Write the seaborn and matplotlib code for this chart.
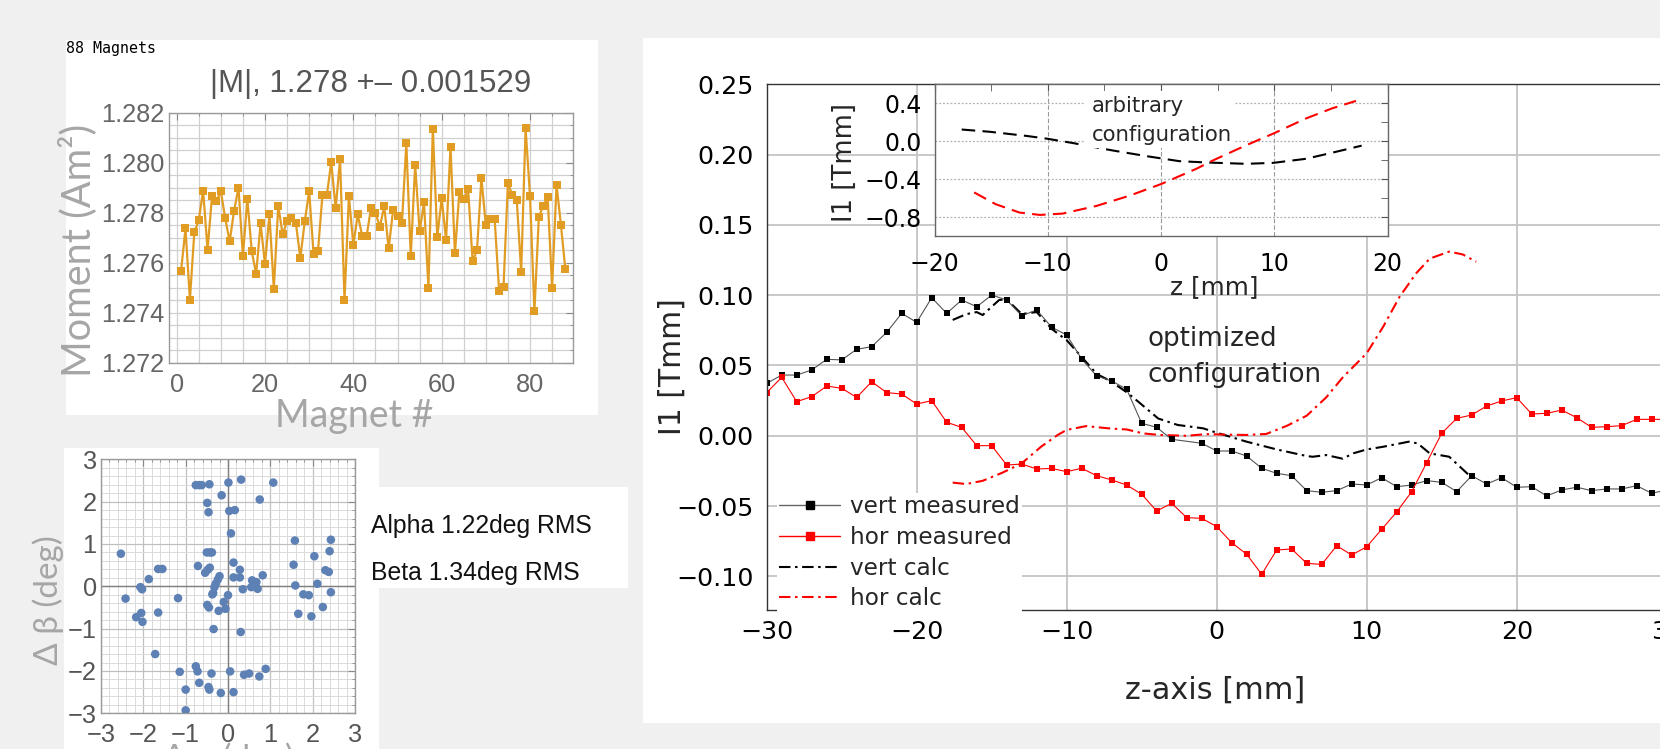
import matplotlib
matplotlib.use("Agg")
import matplotlib.pyplot as plt
import seaborn as sns
import numpy as np
import pandas as pd
from matplotlib.lines import Line2D
from matplotlib.patches import Rectangle
from matplotlib.ticker import MultipleLocator

sns.set_style("white")
plt.rcParams['font.family'] = ['DejaVu Sans']
plt.rcParams['axes.unicode_minus'] = True

# ---------------- data ----------------
magnet_index = list(range(1, 89))
magnet_moment = [
    1.27567, 1.27737, 1.27452, 1.27722, 1.27770, 1.27888, 1.27651, 1.27865, 1.27845, 1.27886,
    1.27777, 1.27685, 1.27807, 1.27900, 1.27626, 1.27856, 1.27646, 1.27555, 1.27757, 1.27594,
    1.27793, 1.27495, 1.27828, 1.27713, 1.27765, 1.27777, 1.27758, 1.27618, 1.27765, 1.27886,
    1.27634, 1.27647, 1.27869, 1.27869, 1.28002, 1.27817, 1.28014, 1.27450, 1.27866, 1.27671,
    1.27793, 1.27707, 1.27705, 1.27818, 1.27800, 1.27743, 1.27826, 1.27657, 1.27810, 1.27786,
    1.27757, 1.28077, 1.27626, 1.27992, 1.27725, 1.27841, 1.27500, 1.28136, 1.27702, 1.27857,
    1.27691, 1.28064, 1.27637, 1.27881, 1.27853, 1.27894, 1.27606, 1.27650, 1.27938, 1.27750,
    1.27773, 1.27773, 1.27487, 1.27503, 1.27920, 1.27869, 1.27850, 1.27563, 1.28139, 1.27866,
    1.27407, 1.27783, 1.27828, 1.27861, 1.27500, 1.27912, 1.27751, 1.27574]

alpha_dev = [-2.53, -2.42, -1.87, -2.07, -2.03, -2.17, -2.05, -2.02, -1.65, -1.55, -1.65, -1.72,
             -1.18, -1.14, -1.00, -1.00, -0.76, -0.72, -0.68, -0.39, -0.46, -0.44, -0.17, 0.05,
             0.13, 0.38, 0.50, 0.74, 0.89, 0.30, -0.34, -0.76, -0.68, -0.62, -0.44, 0.01, 0.31,
             1.07, -0.15, 0.75, -0.49, -0.46, 0.03, 0.16, 0.07, -0.50, -0.43, -0.38, -0.71, -0.54,
             -0.48, -0.43, -0.20, -0.24, -0.29, -0.32, -0.35, -0.37, -0.49, -0.45, -0.22, -0.06,
             -0.10, 0.00, 0.13, 0.28, 0.13, 0.28, 0.35, 0.57, 0.55, 0.67, 0.70, 0.82, 1.58, 1.55,
             1.59, 1.66, 1.78, 1.91, 1.97, 2.04, 2.11, 2.24, 2.30, 2.38, 2.40, 2.43, 2.43]
beta_dev = [0.77, -0.29, 0.17, -0.02, -0.07, -0.73, -0.63, -0.84, 0.41, 0.41, -0.62, -1.60,
            -0.28, -2.02, -2.44, -2.93, -1.89, -2.01, -2.28, -2.06, -2.38, -2.44, -2.52, -2.01,
            -2.50, -2.09, -2.06, -2.13, -1.95, -1.08, -1.01, 2.39, 2.39, 2.39, 2.41, 2.45, 2.52,
            2.45, 2.15, 2.05, 1.97, 1.75, 1.78, 1.80, 1.25, 0.80, 0.80, 0.80, 0.48, 0.32,
            0.39, 0.44, 0.24, 0.16, 0.06, -0.02, -0.16, -0.19, -0.44, -0.50, -0.58, -0.53,
            -0.37, -0.21, 0.56, 0.39, 0.21, 0.21, -0.07, 0.14, -0.02, 0.10, -0.06, 0.26, 1.08, 0.51,
            0.02, -0.65, -0.19, -0.21, -0.71, 0.71, 0.06, -0.49, 0.38, 0.34, 0.83, 1.10, -0.14]

z_vert_meas = [-30, -29, -28, -27, -26, -25, -24, -23, -22, -21, -20, -19, -18, -17, -16, -15,
               -14, -13, -12, -11, -10, -9, -8, -7, -6, -5, -4, -3, -1, 0, 1, 2, 3, 4, 5, 6, 7,
               8, 9, 10, 11, 12, 13, 14, 15, 16, 17, 18, 19, 20, 21, 22, 23, 24, 25, 26, 27, 28,
               29, 30]
vert_meas = [0.0373, 0.0432, 0.0432, 0.0468, 0.0544, 0.0540, 0.0615, 0.0634, 0.0736, 0.0871,
             0.0807, 0.0982, 0.0871, 0.0966, 0.0918, 0.1001, 0.0966, 0.0854, 0.0895, 0.0772,
             0.0717, 0.0546, 0.0425, 0.0390, 0.0331, 0.0089, 0.0060, -0.0025, -0.0053, -0.0108,
             -0.0108, -0.0144, -0.0231, -0.0267, -0.0284, -0.0390, -0.0402, -0.0390, -0.0343,
             -0.0350, -0.0298, -0.0362, -0.0350, -0.0319, -0.0331, -0.0397, -0.0284, -0.0343,
             -0.0298, -0.0366, -0.0362, -0.0428, -0.0385, -0.0366, -0.0390, -0.0378, -0.0378,
             -0.0355, -0.0409, -0.0385]

z_hor_meas = list(range(-30, 31))
hor_meas = [0.0307, 0.0416, 0.0243, 0.0278, 0.0354, 0.0338, 0.0273, 0.0385, 0.0307, 0.0297,
            0.0226, 0.0250, 0.0096, 0.0060, -0.0070, -0.0070, -0.0208, -0.0201, -0.0236, -0.0232,
            -0.0255, -0.0231, -0.0284, -0.0314, -0.0350, -0.0416, -0.0535, -0.0480, -0.0582,
            -0.0587, -0.0646, -0.0760, -0.0843, -0.0985, -0.0812, -0.0805, -0.0907, -0.0915,
            -0.0782, -0.0848, -0.0789, -0.0665, -0.0542, -0.0397, -0.0191, 0.0018, 0.0124,
            0.0148, 0.0212, 0.0248, 0.0271, 0.0155, 0.0160, 0.0183, 0.0129, 0.0060, 0.0065,
            0.0072, 0.0117, 0.0117, 0.0117]

z_vert_calc = [-17.6, -16.7, -16.0, -15.6, -15.0, -14.5, -14.0, -13.0, -12.0, -11.0, -10.0, -9.0,
               -8.0, -7.1, -6.0, -5.2, -3.9, -2.6, -0.9, 0.0, 2.0, 4.0, 6.0, 6.4, 7.3, 8.4, 9.1,
               10.0, 11.1, 12.8, 13.4, 14.2, 15.5, 16.7, 17.0]
vert_calc = [0.0824, 0.0865, 0.0880, 0.0859, 0.0918, 0.0966, 0.0970, 0.0866, 0.0880, 0.0760,
             0.0680, 0.0560, 0.0440, 0.0390, 0.0310, 0.0240, 0.0123, 0.0077, 0.0053, 0.0022,
             -0.0042, -0.0097, -0.0144, -0.0149, -0.0137, -0.0163, -0.0125, -0.0097, -0.0078,
             -0.0042, -0.0054, -0.0125, -0.0149, -0.0268, -0.0284]

z_hor_calc = [-17.6, -16.7, -15.6, -14.3, -13.0, -11.7, -10.6, -10.0, -8.7, -7.1, -6.0, -4.9,
              -3.8, -2.0, -0.7, 0.7, 2.0, 3.3, 4.7, 6.0, 7.3, 8.4, 10.0, 11.1, 12.2, 13.3, 14.2,
              15.5, 16.4, 17.3]
hor_calc = [-0.0333, -0.0343, -0.0320, -0.0263, -0.0196, -0.0077, 0.0006, 0.0042, 0.0069,
            0.0052, 0.0045, 0.0017, 0.0006, 0.0000, 0.0012, 0.0008, 0.0006, 0.0013, 0.0072,
            0.0143, 0.0273, 0.0415, 0.0587, 0.0776, 0.0990, 0.1156, 0.1260, 0.1310, 0.1290,
            0.1238]

z_arb_vert = [-17.6, -15.1, -11.9, -10.1, -7.8, -4.3, -1.3, 1.6, 4.0, 7.5, 9.9, 12.8, 15.1, 17.7]
arb_vert = [0.124, 0.100, 0.057, 0.028, -0.018, -0.096, -0.156, -0.209, -0.223, -0.237, -0.227,
            -0.184, -0.120, -0.046]
z_arb_hor = [-16.5, -14.6, -12.5, -10.7, -8.7, -5.7, -2.8, 0.0, 3.1, 4.6, 7.5, 9.9, 12.8, 15.1, 17.2]
arb_hor = [-0.538, -0.662, -0.750, -0.775, -0.761, -0.680, -0.573, -0.450, -0.290, -0.200,
           -0.042, 0.081, 0.241, 0.347, 0.425]

main_xticks = [-30, -20, -10, 0, 10, 20, 30]
main_yticks = [-0.10, -0.05, 0.00, 0.05, 0.10, 0.15, 0.20, 0.25]
inset_xticks = [-20, -10, 0, 10, 20]
inset_yticks = [-0.8, -0.4, 0.0, 0.4]
mag_xticks = [0, 20, 40, 60, 80]
mag_yticks = [1.272, 1.274, 1.276, 1.278, 1.280, 1.282]
ang_ticks = [-3, -2, -1, 0, 1, 2, 3]
legend_labels = ["vert measured", "hor measured", "vert calc", "hor calc"]

# ---------------- layout helpers ----------------
W, H = 1660, 749
fig = plt.figure(figsize=(W / 100, H / 100), dpi=100, facecolor='#f0f0f0')


def fx(p):
    return p / W


def fy(p):
    return 1 - p / H


def box(l, t, r, b):
    return [l / W, 1 - b / H, (r - l) / W, (b - t) / H]


def panel(l, t, r, b):
    fig.add_artist(Rectangle((fx(l), fy(b)), (r - l) / W, (b - t) / H,
                             transform=fig.transFigure, facecolor='white',
                             edgecolor='none', zorder=-10))


def mlabel(v, fmt):
    return fmt.format(v).replace('-', '\u2212')


ORANGE = '#E19C24'
BLUE = '#5E81B5'
RED = '#FF0000'

panel(65.6, 40, 597.7, 415)
panel(64.3, 448.3, 379.3, 749)
panel(379.3, 487.3, 628, 588.3)
panel(642.7, 38, 1660, 723)

# ---------------- top-left: magnet moments ----------------
ax1 = fig.add_axes(box(168.7, 112.7, 573.3, 362.7))
ax1.set_facecolor('white')
sns.lineplot(x=magnet_index, y=magnet_moment, ax=ax1, color=ORANGE, marker='s',
             markersize=5.5, markeredgecolor=ORANGE, markeredgewidth=0, linewidth=1.6,
             estimator=None, sort=False, errorbar=None)
ax1.set_xlim(-1.8, 89.8)
ax1.set_ylim(1.272, 1.282)
ax1.set_xticks(mag_xticks, labels=[str(v) for v in mag_xticks], fontfamily='Liberation Sans',
               fontsize=18.3, color='#666666')
ax1.set_yticks(mag_yticks, labels=[mlabel(v, '{:.3f}') for v in mag_yticks],
               fontfamily='Liberation Sans', fontsize=18.3, color='#666666')
ax1.xaxis.set_minor_locator(MultipleLocator(5))
ax1.yaxis.set_minor_locator(MultipleLocator(0.0005))
ax1.grid(True, which='both', color='#d0d0d0', lw=0.9)
ax1.set_axisbelow(True)
ax1.tick_params(which='both', direction='in', top=True, right=True, color='#888888')
ax1.tick_params(which='major', length=5)
ax1.tick_params(which='minor', length=2.5)
ax1.tick_params(axis='x', which='major', pad=7.2)
ax1.tick_params(axis='y', which='major', pad=3.2)
for s in ax1.spines.values():
    s.set_color('#9a9a9a')
    s.set_linewidth(1.0)
ax1.set_xlabel('')
ax1.set_ylabel('')

fig.text(fx(66), fy(48), '88 Magnets', ha='left', va='center', fontsize=10.8,
         family='DejaVu Sans Mono', color='black')
fig.text(fx(371), fy(92.3), '|M|, 1.278 +\u2013 0.001529', ha='center', va='baseline',
         fontsize=22.5, color='#555555', family='Liberation Sans')
fig.text(fx(78), fy(250), 'Moment (Am\u00b2)', rotation=90, ha='center', va='center',
         fontsize=28.5, color='#a6a6a6', family=['Lato', 'DejaVu Sans'])
fig.text(fx(354), fy(426.7), 'Magnet #', ha='center', va='baseline',
         fontsize=27, color='#a6a6a6', family=['Lato', 'DejaVu Sans'])

# ---------------- bottom-left: angle scatter ----------------
ax2 = fig.add_axes(box(101, 459.3, 355, 713.3))
ax2.set_facecolor('white')
ax2.axhline(0, color='#808080', lw=1.0, zorder=1.5)
ax2.axvline(0, color='#808080', lw=1.0, zorder=1.5)
sns.scatterplot(x=alpha_dev, y=beta_dev, ax=ax2, color=BLUE, s=38, edgecolor='none',
                linewidth=0, zorder=3)
ax2.set_xlim(-3, 3)
ax2.set_ylim(-3, 3)
ax2.set_xticks(ang_ticks, labels=[mlabel(v, '{:d}') for v in ang_ticks],
               fontfamily='Liberation Sans', fontsize=18.3, color='#555555')
ax2.set_yticks(ang_ticks, labels=[mlabel(v, '{:d}') for v in ang_ticks],
               fontfamily='Liberation Sans', fontsize=18.3, color='#555555')
ax2.xaxis.set_minor_locator(MultipleLocator(0.2))
ax2.yaxis.set_minor_locator(MultipleLocator(0.2))
ax2.grid(True, which='major', color='#c0c0c0', lw=0.9)
ax2.grid(True, which='minor', color='#dadada', lw=0.7)
ax2.set_axisbelow(True)
ax2.tick_params(which='both', direction='in', top=True, right=True, color='#888888')
ax2.tick_params(which='major', length=5)
ax2.tick_params(which='minor', length=2.5)
ax2.tick_params(axis='x', which='major', pad=7.2)
ax2.tick_params(axis='y', which='major', pad=3.1)
for s in ax2.spines.values():
    s.set_color('#9a9a9a')
    s.set_linewidth(1.0)
ax2.set_xlabel('')
ax2.set_ylabel('')

fig.text(fx(48.3), fy(600), '\u0394 \u03b2 (deg)', rotation=90, ha='center', va='center',
         fontsize=24, color='#a6a6a6', family=['Lato', 'DejaVu Sans'])
fig.text(fx(228), fy(758), '\u0394 \u03b1 (deg)', ha='center', va='center',
         fontsize=24, color='#a6a6a6', family=['Lato', 'DejaVu Sans'])
fig.text(fx(370.5), fy(533.5), 'Alpha 1.22deg RMS', ha='left', va='baseline',
         fontsize=17.8, color='#111111', family='Liberation Sans')
fig.text(fx(370.5), fy(580), 'Beta 1.34deg RMS', ha='left', va='baseline',
         fontsize=17.8, color='#111111', family='Liberation Sans')

# ---------------- right: main I1 plot ----------------
ax3 = fig.add_axes(box(766.7, 84.3, 1666.7, 610))
ax3.set_facecolor('white')
DASHDOT = (0, (5.5, 2.2, 1.2, 2.2))
sns.lineplot(x=z_vert_calc, y=vert_calc, ax=ax3, color='black', linewidth=1.5,
             linestyle=DASHDOT, estimator=None, sort=False, errorbar=None)
sns.lineplot(x=z_hor_calc, y=hor_calc, ax=ax3, color=RED, linewidth=1.5,
             linestyle=DASHDOT, estimator=None, sort=False, errorbar=None)
sns.lineplot(x=z_vert_meas, y=vert_meas, ax=ax3, color='#555555', linewidth=0.8,
             marker='s', markersize=5, markerfacecolor='black', markeredgecolor='black',
             markeredgewidth=0, estimator=None, sort=False, errorbar=None)
sns.lineplot(x=z_hor_meas, y=hor_meas, ax=ax3, color=RED, linewidth=0.8,
             marker='s', markersize=5, markerfacecolor=RED, markeredgecolor=RED,
             markeredgewidth=0, estimator=None, sort=False, errorbar=None)
ax3.set_xlim(-30, 30)
ax3.set_ylim(-0.1239, 0.25)
ax3.set_xticks(main_xticks, labels=[mlabel(v, '{:d}') for v in main_xticks])
ax3.set_yticks(main_yticks, labels=[mlabel(v, '{:.2f}') for v in main_yticks])
ax3.xaxis.set_minor_locator(MultipleLocator(5))
ax3.yaxis.set_minor_locator(MultipleLocator(0.025))
ax3.grid(True, which='major', color='#c4c4c4', lw=1.3)
ax3.set_axisbelow(True)
ax3.tick_params(which='both', direction='in', color='#333333', labelsize=18.2,
                labelcolor='black')
ax3.tick_params(which='major', length=6)
ax3.tick_params(which='minor', length=4)
ax3.tick_params(axis='x', which='major', pad=7.2)
ax3.tick_params(axis='y', which='major', pad=9.6)
for s in ax3.spines.values():
    s.set_color('#333333')
    s.set_linewidth(1.0)
ax3.set_xlabel('')
ax3.set_ylabel('')

handles = [
    Line2D([], [], color='#666666', lw=1.0, marker='s', markersize=5.5,
           markerfacecolor='black', markeredgecolor='black'),
    Line2D([], [], color=RED, lw=1.0, marker='s', markersize=5.5,
           markerfacecolor=RED, markeredgecolor=RED),
    Line2D([], [], color='black', lw=1.5, linestyle=DASHDOT),
    Line2D([], [], color=RED, lw=1.5, linestyle=DASHDOT),
]
leg = ax3.legend(handles, legend_labels, loc='upper left',
                 bbox_to_anchor=(fx(776.5), fy(493)), bbox_transform=fig.transFigure,
                 frameon=True, facecolor='white', edgecolor='none', framealpha=1,
                 fancybox=False, borderpad=0.1, borderaxespad=0, handlelength=2.65,
                 handletextpad=0.4, labelspacing=0.33, fontsize=16.7)
leg.set_zorder(10)

fig.text(fx(672), fy(367), 'I1 [Tmm]', rotation=90, ha='center', va='center', fontsize=21.5)
fig.text(fx(1215), fy(690), 'z-axis [mm]', ha='center', va='center', fontsize=21.8)
fig.text(fx(1147.3), fy(345.7), 'optimized', ha='left', va='baseline', fontsize=18.8)
fig.text(fx(1147.3), fy(382.3), 'configuration', ha='left', va='baseline', fontsize=18.8)

# ---------------- inset: arbitrary configuration ----------------
ax4 = fig.add_axes(box(934.5, 84.3, 1387.7, 236.3), zorder=5)
ax4.set_facecolor('white')
DASH = (0, (6.5, 3.5))
sns.lineplot(x=z_arb_vert, y=arb_vert, ax=ax4, color='black', linewidth=1.5,
             linestyle=DASH, estimator=None, sort=False, errorbar=None)
sns.lineplot(x=z_arb_hor, y=arb_hor, ax=ax4, color=RED, linewidth=1.5,
             linestyle=DASH, estimator=None, sort=False, errorbar=None)
ax4.set_xlim(-20, 20)
ax4.set_ylim(-1.0, 0.6)
ax4.set_xticks(inset_xticks, labels=[mlabel(v, '{:d}') for v in inset_xticks])
ax4.set_yticks(inset_yticks, labels=[mlabel(v, '{:.1f}') for v in inset_yticks])
ax4.xaxis.set_minor_locator(MultipleLocator(5))
ax4.yaxis.set_minor_locator(MultipleLocator(0.2))
ax4.grid(True, axis='x', which='major', color='#9a9a9a', lw=0.8, linestyle=(0, (4, 2)))
ax4.grid(True, axis='y', which='major', color='#b0b0b0', lw=0.9, linestyle=(0, (1.5, 1.5)))
ax4.set_axisbelow(True)
ax4.tick_params(which='both', direction='in', top=True, right=True, color='#555555',
                labelsize=17, labelcolor='black')
ax4.tick_params(which='major', length=5)
ax4.tick_params(which='minor', length=5)
ax4.tick_params(axis='x', which='major', pad=11)
ax4.tick_params(axis='y', which='major', pad=9.2)
for s in ax4.spines.values():
    s.set_color('#666666')
    s.set_linewidth(1.0)
ax4.set_xlabel('')
ax4.set_ylabel('')
ax4.add_patch(Rectangle((fx(1084), fy(148)), 150 / W, 57 / H, transform=fig.transFigure,
                        facecolor='white', edgecolor='none', zorder=3))
ax4.text(fx(1092), fy(111.7), 'arbitrary', transform=fig.transFigure, ha='left',
         va='baseline', fontsize=15.3, zorder=4)
ax4.text(fx(1092), fy(141), 'configuration', transform=fig.transFigure, ha='left',
         va='baseline', fontsize=15.3, zorder=4)

fig.text(fx(845), fy(162.5), 'I1 [Tmm]', rotation=90, ha='center', va='center', fontsize=18.6)
fig.text(fx(1214), fy(287), 'z [mm]', ha='center', va='center', fontsize=17.8)

fig.savefig('out.png', dpi=100, facecolor=fig.get_facecolor())
